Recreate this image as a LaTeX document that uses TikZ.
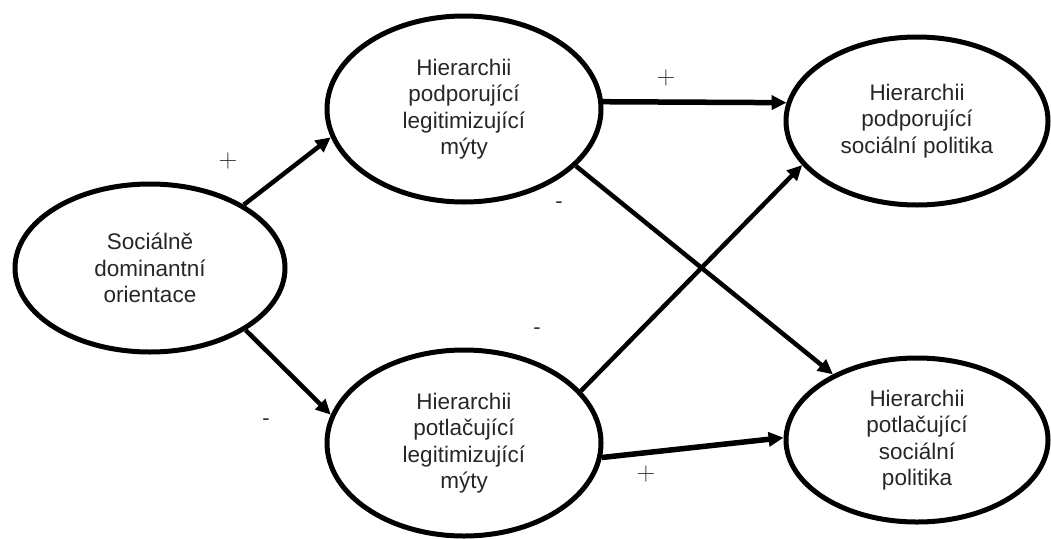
\documentclass[tikz,border=0pt]{standalone}
\usepackage{fontspec}
\setsansfont{Liberation Sans}
\usetikzlibrary{shapes.geometric,arrows.meta}
\begin{document}
\begin{tikzpicture}[
	x=1pt,y=-1pt,
	>={Triangle[length=15pt,width=14pt]},
	line join=round,
	factor/.style={ellipse,draw,line width=5pt,inner sep=0pt,align=center,
		font=\sffamily\fontsize{22.5}{26.5}\selectfont,text=black!85},
	link/.style={->,line width=4.5pt},
	sign/.style={font=\fontsize{26}{28}\selectfont,text=black!80},
	minus/.style={font=\sffamily\fontsize{22}{24}\selectfont,text=black!80}
	]
	\useasboundingbox (0,0) rectangle (1051,538);
	% ellipses
	\node[factor,minimum width=270pt,minimum height=168pt] (sdo) at (150,268) {Sociálně\\dominantní\\orientace};
	\node[factor,minimum width=274pt,minimum height=186pt] (hplm) at (464,109) {Hierarchii\\podporující\\legitimizující\\mýty};
	\node[factor,minimum width=274pt,minimum height=186pt] (hnlm) at (464,443) {Hierarchii\\potlačující\\legitimizující\\mýty};
	\node[factor,minimum width=262pt,minimum height=168pt] (hpsp) at (917,121) {Hierarchii\\podporující\\sociální politika};
	\node[factor,minimum width=262pt,minimum height=164pt] (hnsp) at (917,440) {Hierarchii\\potlačující\\sociální\\politika};
	% arrows
	\draw[link] (sdo.34) -- (hplm.192);
	\draw[link] (sdo.-33) -- (hnlm.168);
	\draw[link,line width=5.5pt] (hplm.3) -- (hpsp.172);
	\draw[link] (hplm.-27) -- (hnsp.142);
	\draw[link] (hnlm.24) -- (hpsp.201);
	\draw[link,line width=5.5pt] (hnlm.-6) -- (hnsp.179);
	% signs
	\node[sign] (s1) at (228,161) {+};
	\node[minus] (s2) at (266,422) {-};
	\node[sign] (s3) at (666,78) {+};
	\node[minus] (s4) at (559,205) {-};
	\node[minus] (s5) at (537,331) {-};
	\node[sign] (s6) at (646,474) {+};
\end{tikzpicture}
\end{document}
